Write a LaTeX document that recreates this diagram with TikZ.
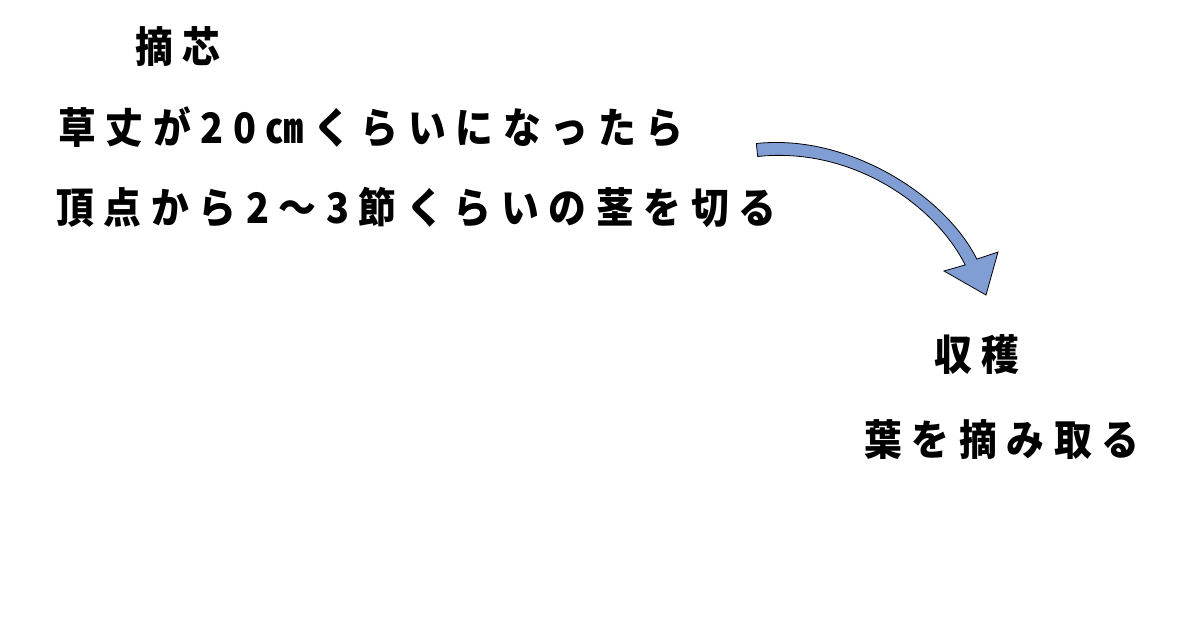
\documentclass[tikz,border=0pt]{standalone}
\usepackage{fontspec}
\newfontfamily\jpfont{Noto Sans CJK JP}[FakeStretch=0.9, LetterSpace=23]
\definecolor{arrowblue}{RGB}{128,158,212}
\begin{document}
\begin{tikzpicture}[x=1pt, y=-1pt,
        jp/.style={anchor=base west, inner sep=0pt, font=\jpfont\bfseries\fontsize{42}{44}\selectfont}]
            \useasboundingbox (0,0) rectangle (1200,630);
            % left text
            \node[jp] (title) at (135,62) {摘芯};
            \node[jp] (line1) at (58,143) {草丈が20㎝くらいになったら};
            \node[jp] (line2) at (56,223) {頂点から2〜3節くらいの茎を切る};
            % right text
            \node[jp] (harvest) at (934,370) {収穫};
            \node[jp] (leaves) at (864,455) {葉を摘み取る};
            % curved arrow
            \draw[fill=arrowblue, line width=0.8pt, line join=miter]
                (756.3,143.5) .. controls (849.4,133.5) and (945.8,196.5) .. (976.8,259.1)
                -- (998,252) -- (986,295) -- (944,271) -- (965.2,264.9)
                .. controls (934.2,203.5) and (850.6,146.5) .. (757.7,156.5) -- cycle;
            \end{tikzpicture}
\end{document}
